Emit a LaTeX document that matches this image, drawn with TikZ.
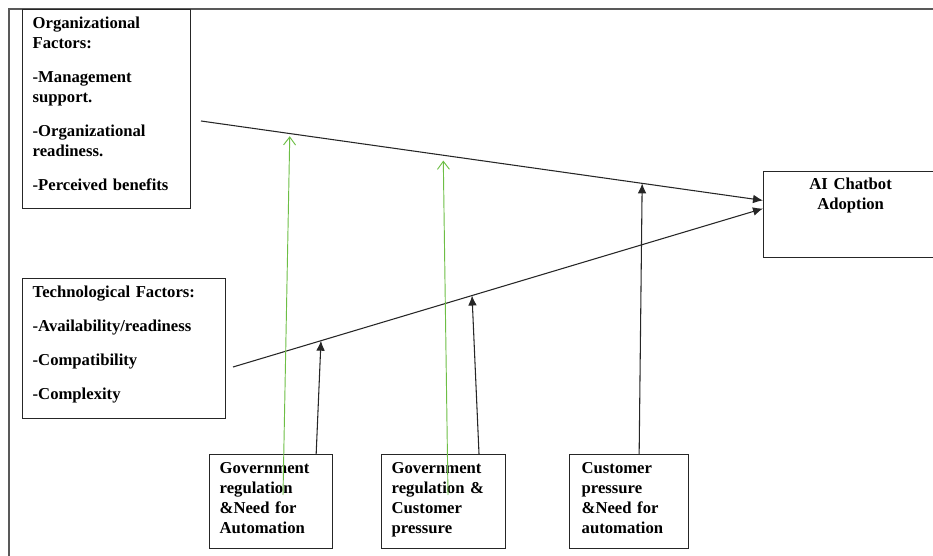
\documentclass[tikz,border=0pt]{standalone}
\usepackage{fontspec}
\setmainfont{Liberation Serif}
\usetikzlibrary{arrows.meta,calc}

\definecolor{leafgreen}{HTML}{6DBE45}

\tikzset{
  box/.style={draw=black!85, line width=1pt, anchor=north west, inner xsep=7.5pt,
    align=left, font=\bfseries\fontsize{12.5}{15}\selectfont},
  modbox/.style={box, minimum height=70.5pt, text depth=51pt},
  infl/.style={-{Latex[length=7.5pt,width=6.5pt]}, line width=0.8pt, black!85},
  moder/.style={-{Straight Barb[length=6pt,width=9pt]}, line width=0.7pt, leafgreen},
  frame/.style={line width=1pt, black!65}
}

\begin{document}
\begin{tikzpicture}[x=0.75pt,y=-0.75pt]
\useasboundingbox (0,0) rectangle (933,556);
\clip (0,0) rectangle (933,556);

% outer frame (cut at right and bottom)
\draw[frame] (9,570) -- (9,9) -- (945,9);

% factor boxes
\node[box, text width=111pt, minimum width=126pt, minimum height=149.25pt, text depth=130pt] (org) at (22,9)
  {Organizational\\Factors:\\[10.5pt]-Management\\support.\\[10.5pt]-Organizational\\readiness.\\[10.5pt]-Perceived benefits};
\node[box, text width=137.25pt, minimum width=152.25pt, minimum height=105pt, text depth=85pt] (tech) at (22,278)
  {Technological Factors:\\[10.5pt]-Availability/readiness\\[10.5pt]-Compatibility\\[10.5pt]-Complexity};

% outcome
\node[box, align=center, text width=115.5pt, minimum width=130.5pt, minimum height=64.5pt, text depth=47pt] (ai) at (763,171)
  {AI Chatbot\\Adoption};

% moderators
\node[modbox, text width=77.25pt, minimum width=92.25pt] (gov1) at (209,454)
  {Government\\regulation\\\&Need for\\Automation};
\node[modbox, text width=78pt, minimum width=93pt] (gov2) at (381,454)
  {Government\\regulation \&\\Customer\\pressure};
\node[modbox, text width=71.25pt, minimum width=86.25pt, inner xsep=9pt] (cust) at (569,454)
  {Customer\\pressure\\\&Need for\\automation};

% main paths
\coordinate (orgend) at (201,121);
\coordinate (techend) at (233,367);
\coordinate (aitop) at ($(ai.north west)!0.337!(ai.south west)$);
\coordinate (aibot) at ($(ai.north west)!0.43!(ai.south west)$);
\draw[infl] (orgend) -- (aitop);
\draw[infl] (techend) -- (aibot);

% points hit on the paths
\coordinate (p1) at ($(orgend)!0.158!(aitop)$);
\coordinate (p2) at ($(orgend)!0.431!(aitop)$);
\coordinate (p3) at ($(orgend)!0.785!(aitop)$);
\coordinate (q1) at ($(techend)!0.166!(aibot)$);
\coordinate (q2) at ($(techend)!0.451!(aibot)$);

% moderating arrows
\draw[infl] ($(gov1.north west)!0.862!(gov1.north east)$) -- (q1);
\draw[infl] ($(gov2.north west)!0.782!(gov2.north east)$) -- (q2);
\draw[infl] ($(cust.north west)!0.583!(cust.north east)$) -- (p3);
\draw[moder, shorten >=2pt] ($(gov1.north west)+(74,41)$) -- (p1);
\draw[moder, shorten >=4pt] ($(gov2.north west)+(67,41)$) -- (p2);
\end{tikzpicture}
\end{document}
